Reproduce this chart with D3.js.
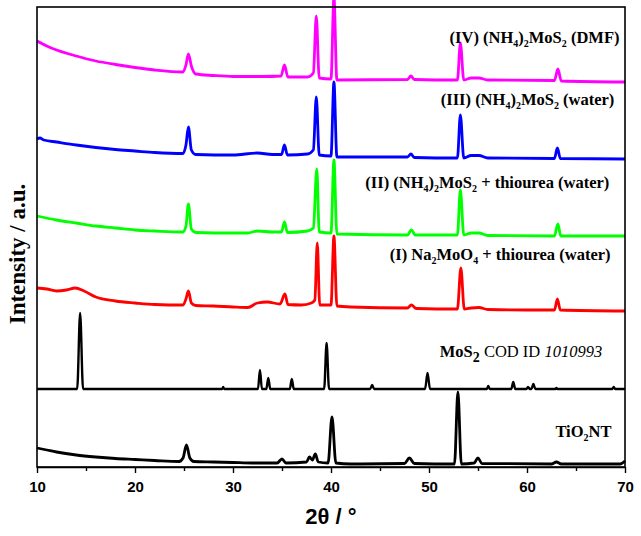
<!DOCTYPE html>
<html>
<head>
<meta charset="utf-8">
<script src="https://d3js.org/d3.v7.min.js"></script>
<style>
  * { margin: 0; padding: 0; }
  body { background: #fff; width: 641px; height: 536px; overflow: hidden; }
  svg { display: block; }
  .lbl { font-family: 'Liberation Serif', 'Times New Roman', serif; font-size: 16.5px; font-weight: 700; fill: #000; }
  .tick text { font-family: 'Liberation Sans', Arial, sans-serif; font-size: 15px; font-weight: 700; fill: #000; }
</style>
</head>
<body>
<svg id="chart" width="641" height="536"></svg>
<script>
// 2theta range and ticks
const xDomain = [10, 70];
const majorTicks = [10, 20, 30, 40, 50, 60, 70];
const minorTicks = [15, 25, 35, 45, 55, 65];

// [2theta, intensity (a.u., stacked)]
const tio2 = [
  [10, 19], [11, 17], [12, 15], [14, 12], [16, 10], [18, 8.5], [20, 7.5], [22, 6.5], [24.5, 5.5],
  [24.9, 9], [25.25, 22], [25.6, 9], [26, 5.5], [28, 5], [30, 4.5], [32, 4], [34.5, 4],
  [35.0, 8], [35.4, 4], [37.5, 5], [37.8, 10], [38.1, 7], [38.4, 13], [38.7, 5], [39.7, 4],
  [40.1, 50], [40.5, 4], [42, 3], [47.5, 3.5], [48.0, 9], [48.5, 3.5], [52.6, 3],
  [52.95, 75], [53.3, 3], [54.6, 4], [55.0, 9], [55.4, 3.5], [62.5, 3], [63.0, 5], [63.5, 3],
  [69.5, 3], [70, 6]
];
const mos2Ref = [
  [10, 78], [14.1, 78], [14.4, 154], [14.7, 78], [28.9, 78], [29.0, 80], [29.1, 78],
  [32.55, 78], [32.75, 97], [32.95, 78], [33.4, 78], [33.6, 89], [33.8, 78],
  [35.8, 78], [36.0, 88], [36.2, 78], [39.3, 78], [39.55, 124], [39.8, 78],
  [44.0, 78], [44.2, 82], [44.4, 78], [49.6, 78], [49.85, 94], [50.1, 78],
  [55.9, 78], [56.05, 81], [56.2, 78], [58.4, 78], [58.6, 85], [58.8, 78],
  [59.95, 78], [60.1, 80], [60.3, 78], [60.45, 78], [60.65, 83], [60.85, 78],
  [62.9, 78], [63.0, 79], [63.1, 78], [68.7, 78], [68.85, 80], [69.0, 78], [70, 78]
];
const sampleI = [
  [10, 179], [11, 178], [12, 176], [13, 177], [13.9, 179], [14.8, 176], [16, 170], [18, 166],
  [20, 164], [22, 162.5], [24.9, 162], [25.2, 168], [25.45, 176], [25.75, 164], [26.2, 161.5],
  [28, 161], [30, 160], [31.5, 159.5], [32.5, 164], [33.5, 165], [34.8, 163], [35.3, 173],
  [35.6, 162.5], [37, 162], [38.0, 164], [38.35, 167], [38.6, 224], [38.85, 162], [40.0, 162],
  [40.3, 231], [40.6, 161], [42, 160], [47.8, 159], [48.2, 162], [48.7, 158.5], [52.9, 158],
  [53.25, 199], [53.6, 158], [54.3, 159], [55.1, 159.5], [56, 157.5], [60, 157], [62.8, 157],
  [63.1, 168], [63.4, 157], [70, 156]
];
const sampleII = [
  [10, 251], [12, 247], [14, 244], [16, 241], [18, 239], [20, 237], [22, 236], [24.9, 235],
  [25.2, 241], [25.45, 263], [25.75, 238], [26.2, 234.5], [30, 234], [31.5, 234], [32.5, 236],
  [34, 235], [34.95, 235], [35.25, 245], [35.55, 234.5], [37.6, 236], [38.2, 239], [38.55, 298],
  [38.8, 235], [40.0, 234], [40.3, 307], [40.6, 233], [47.8, 232], [48.2, 237], [48.6, 232],
  [52.9, 232], [53.2, 277], [53.55, 232], [54.3, 234], [55.1, 234], [56, 231.5], [62.8, 231],
  [63.15, 243], [63.45, 231], [70, 231]
];
const sampleIII = [
  [10, 328], [10.3, 329], [10.7, 327], [12, 325], [14, 322], [16, 319.5], [18, 317.5], [20, 316],
  [22, 314.5], [24.9, 313.5], [25.2, 322], [25.45, 340], [25.75, 317], [26.2, 312.5], [30, 312],
  [32.5, 314], [34, 312.5], [34.95, 312.5], [35.25, 322], [35.55, 312], [37.6, 313], [38.2, 317],
  [38.5, 370], [38.8, 312], [40.0, 311], [40.3, 385], [40.6, 310], [47.8, 310], [48.15, 313],
  [48.5, 309.5], [52.9, 309], [53.2, 352], [53.55, 309], [54.3, 311.5], [55.1, 311.5], [56, 309],
  [62.8, 308.5], [63.1, 319], [63.4, 308.5], [70, 308]
];
const sampleIV = [
  [10, 426], [11, 421], [12, 417], [14, 411], [16, 406], [18, 402.5], [20, 399.5], [22, 397],
  [24.9, 395], [25.2, 402], [25.45, 413], [25.75, 401], [26.2, 393], [28, 391.5], [30, 390.5],
  [33, 390.5], [34.9, 391], [35.25, 402], [35.6, 390], [37.6, 390], [38.2, 394], [38.5, 451],
  [38.8, 389], [40.0, 388], [40.3, 470], [40.6, 387], [47.8, 387.5], [48.15, 391], [48.5, 387.5],
  [52.9, 387], [53.2, 424], [53.55, 387], [54.3, 389], [55.1, 389], [56, 387], [62.8, 386.5],
  [63.15, 398], [63.5, 386], [70, 385]
];

const series = [
  { name: 'TiO2NT', color: '#000000', width: 2.8, data: tio2 },
  { name: 'MoS2 ref', color: '#000000', width: 2.4, data: mos2Ref },
  { name: 'I', color: '#FF0000', width: 2.8, data: sampleI },
  { name: 'II', color: '#00FF00', width: 2.8, data: sampleII },
  { name: 'III', color: '#0000FF', width: 2.8, data: sampleIII },
  { name: 'IV', color: '#FF00FF', width: 2.8, data: sampleIV }
];

const svg = d3.select('#chart');
const x = d3.scaleLinear().domain(xDomain).range([37, 625]);
const y = d3.scaleLinear().domain([0, 460]).range([467, 7]);

const line = d3.line()
  .x(d => x(d[0]))
  .y(d => y(d[1]))
  .curve(d3.curveMonotoneX);

svg.append('g').selectAll('path')
  .data(series)
  .join('path')
  .attr('d', d => line(d.data))
  .attr('fill', 'none')
  .attr('stroke', d => d.color)
  .attr('stroke-width', d => d.width)
  .attr('stroke-linejoin', 'round');

// frame
svg.append('rect')
  .attr('x', x(10)).attr('y', y(460))
  .attr('width', x(70) - x(10)).attr('height', y(0) - y(460))
  .attr('fill', 'none').attr('stroke', '#000').attr('stroke-width', 1.6);

// x axis
const xAxis = svg.append('g')
  .attr('transform', `translate(0,${y(0)})`)
  .call(d3.axisBottom(x).tickValues(majorTicks).tickSize(6).tickSizeOuter(0).tickPadding(8));
svg.append('g')
  .attr('transform', `translate(0,${y(0)})`)
  .call(d3.axisBottom(x).tickValues(minorTicks).tickSize(4).tickSizeOuter(0).tickFormat(''))
  .select('.domain').remove();
xAxis.select('.domain').attr('stroke-width', 1.6);
svg.selectAll('.tick line').attr('stroke', '#000').attr('stroke-width', 1.4);

// axis titles
svg.append('text')
  .attr('x', 331).attr('y', 524)
  .attr('text-anchor', 'middle')
  .style('font-family', "'Liberation Sans', Arial, sans-serif")
  .style('font-size', '22px').style('font-weight', 700)
  .text('2θ / °');

svg.append('text')
  .attr('transform', 'translate(25,254) rotate(-90)')
  .attr('text-anchor', 'middle')
  .style('font-family', "'Liberation Serif', 'Times New Roman', serif")
  .style('font-size', '23px').style('font-weight', 700)
  .text('Intensity / a.u.');

// curve labels: parts are [text, kind]; kind 'sub' = subscript
const labels = [
  { at: [52.1, 424], parts: [['(IV) (NH', ''], ['4', 'sub'], [')', ''], ['2', 'sub'], ['MoS', ''], ['2', 'sub'], [' (DMF)', '']] },
  { at: [51.2, 362], parts: [['(III) (NH', ''], ['4', 'sub'], [')', ''], ['2', 'sub'], ['MoS', ''], ['2', 'sub'], [' (water)', '']] },
  { at: [43.5, 279], parts: [['(II) (NH', ''], ['4', 'sub'], [')', ''], ['2', 'sub'], ['MoS', ''], ['2', 'sub'], [' + thiourea (water)', '']] },
  { at: [46.0, 207], parts: [['(I) Na', ''], ['2', 'sub'], ['MoO', ''], ['4', 'sub'], [' + thiourea (water)', '']] },
  { at: [51.1, 110], parts: [['MoS', ''], ['2', 'bigsub'], [' COD ID ', 'normal'], ['1010993', 'italic']] },
  { at: [62.9, 30], parts: [['TiO', ''], ['2', 'sub'], ['NT', '']] }
];

labels.forEach(l => {
  const t = svg.append('text').attr('class', 'lbl')
    .attr('x', x(l.at[0])).attr('y', y(l.at[1]));
  let shift = 0;
  l.parts.forEach(([s, kind]) => {
    const isSub = kind === 'sub' || kind === 'bigsub';
    const target = isSub ? (kind === 'bigsub' ? 5 : 4) : 0;
    const ts = t.append('tspan').attr('dy', target - shift).text(s);
    shift = target;
    if (kind === 'sub') ts.style('font-size', '10px');
    if (kind === 'bigsub') ts.style('font-size', '14px');
    if (kind === 'normal') ts.style('font-weight', 400);
    if (kind === 'italic') ts.style('font-weight', 400).style('font-style', 'italic');
  });
});
</script>
</body>
</html>
